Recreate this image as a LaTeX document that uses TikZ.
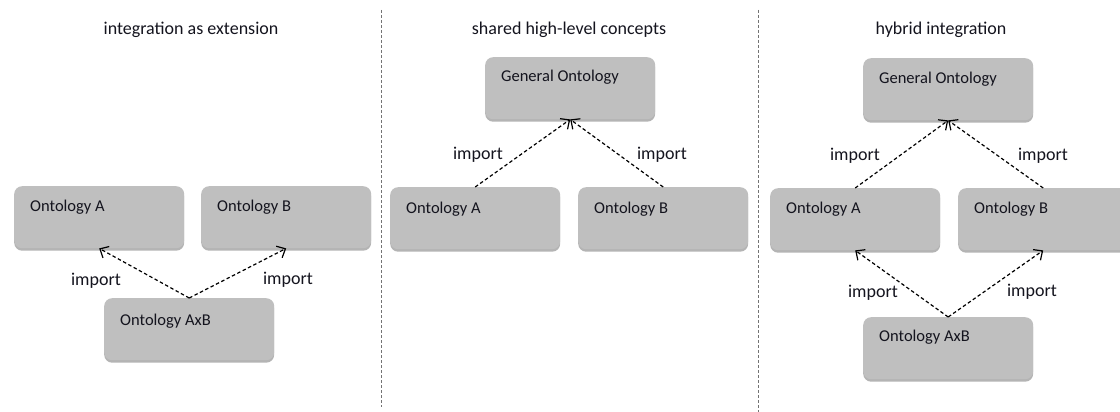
\documentclass[tikz,border=0pt]{standalone}
\usepackage{fontspec}
\setmainfont{Carlito}
\usetikzlibrary{arrows.meta,shadows,calc}

\definecolor{boxgray}{RGB}{191,191,191}
\definecolor{inkdark}{RGB}{20,20,30}

\tikzset{
  onto/.style={draw=none, fill=boxgray, rounded corners=8pt,
    minimum width=170pt, minimum height=62pt, anchor=north west,
    inner sep=0pt,
    drop shadow={shadow xshift=0pt, shadow yshift=-2.5pt, opacity=0.45, fill=black!65}},
  ontotext/.style={anchor=west, inner sep=0pt, text=inkdark,
    font=\fontsize{16.5}{18}\selectfont},
  imp/.style={draw=black, dash pattern=on 3.5pt off 2.5pt, line width=1.2pt,
    -{Straight Barb[length=7pt,width=13pt,line width=1.2pt]}},
  implabel/.style={inner sep=0pt, text=inkdark, font=\fontsize{18}{20}\selectfont},
  paneltitle/.style={inner sep=0pt, text=inkdark, font=\fontsize{18}{20}\selectfont},
  divider/.style={draw=black!55, line width=1pt, dash pattern=on 3pt off 2pt}
}

\begin{document}
\begin{tikzpicture}[x=1pt, y=-1pt]
  \useasboundingbox (0,0) rectangle (1120,412);
  \clip (0,0) rectangle (1120,412);
  \fill[white] (0,0) rectangle (1120,412);

  % panel dividers
  \coordinate (d1t) at (381,10);  \coordinate (d1b) at (381,407);
  \coordinate (d2t) at (758,10);  \coordinate (d2b) at (758,412);
  \draw[divider] (d1t) -- (d1b);
  \draw[divider] (d2t) -- (d2b);

  % panel titles
  \node[paneltitle] (t1) at (191,30) {integration as extension};
  \node[paneltitle] (t2) at (569,30) {shared high-level concepts};
  \node[paneltitle] (t3) at (941,30) {hybrid integration};

  % ---- integration as extension ----
  \node[onto] (p1a) at (14,186) {};
  \node[onto] (p1b) at (201,186) {};
  \node[onto] (p1x) at (104,298) {};
  \node[ontotext] (p1at) at ($(p1a.north west)+(16,21)$) {Ontology A};
  \node[ontotext] (p1bt) at ($(p1b.north west)+(16,21)$) {Ontology B};
  \node[ontotext] (p1xt) at ($(p1x.north west)+(16,23)$) {Ontology AxB};
  \draw[imp] (p1x.north) -- (p1a.south);
  \draw[imp] (p1x.north) -- (p1b.south);
  \node[implabel] (p1l1) at (96,281) {import};
  \node[implabel] (p1l2) at (288,280) {import};

  % ---- shared high-level concepts ----
  \node[onto] (p2g) at (485,57) {};
  \node[onto] (p2a) at (390,187) {};
  \node[onto] (p2b) at (578,187) {};
  \node[ontotext] (p2gt) at ($(p2g.north west)+(16,20)$) {General Ontology};
  \node[ontotext] (p2at) at ($(p2a.north west)+(16,22)$) {Ontology A};
  \node[ontotext] (p2bt) at ($(p2b.north west)+(16,22)$) {Ontology B};
  \draw[imp] (p2a.north) -- (p2g.south);
  \draw[imp] (p2b.north) -- (p2g.south);
  \node[implabel] (p2l1) at (478,155) {import};
  \node[implabel] (p2l2) at (662,155) {import};

  % ---- hybrid integration ----
  \node[onto] (p3g) at (863,58) {};
  \node[onto] (p3a) at (770,188) {};
  \node[onto] (p3b) at (958,188) {};
  \node[onto] (p3x) at (863,317) {};
  \node[ontotext] (p3gt) at ($(p3g.north west)+(16,21)$) {General Ontology};
  \node[ontotext] (p3at) at ($(p3a.north west)+(16,21)$) {Ontology A};
  \node[ontotext] (p3bt) at ($(p3b.north west)+(16,21)$) {Ontology B};
  \node[ontotext] (p3xt) at ($(p3x.north west)+(16,20)$) {Ontology AxB};
  \draw[imp] (p3a.north) -- (p3g.south);
  \draw[imp] (p3b.north) -- (p3g.south);
  \draw[imp] (p3x.north) -- (p3a.south);
  \draw[imp] (p3x.north) -- (p3b.south);
  \node[implabel] (p3l1) at (855,156) {import};
  \node[implabel] (p3l2) at (1043,156) {import};
  \node[implabel] (p3l3) at (873,293) {import};
  \node[implabel] (p3l4) at (1032,292) {import};
\end{tikzpicture}
\end{document}
